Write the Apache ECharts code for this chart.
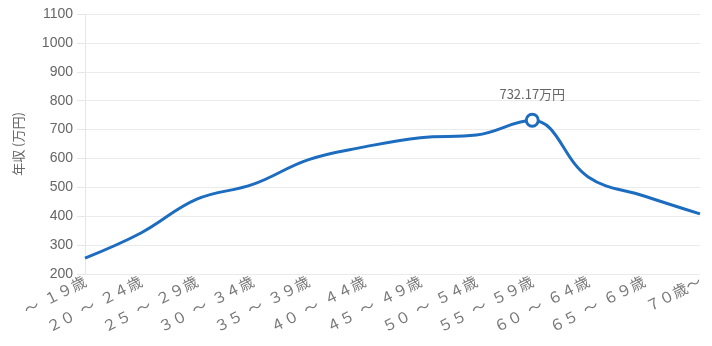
<!DOCTYPE html>
<html><head><meta charset="utf-8">
<script src="https://cdn.jsdelivr.net/npm/echarts@6/dist/echarts.min.js"></script>
<style>html,body{margin:0;padding:0;background:#fff}#c{width:712px;height:346px}</style>
</head><body><div id="c"></div>
<script>
const categories = ['～\u2002１９歳','２０\u2002～\u2002２４歳','２５\u2002～\u2002２９歳','３０\u2002～\u2002３４歳','３５\u2002～\u2002３９歳','４０\u2002～\u2002４４歳','４５\u2002～\u2002４９歳','５０\u2002～\u2002５４歳','５５\u2002～\u2002５９歳','６０\u2002～\u2002６４歳','６５\u2002～\u2002６９歳','７０歳～'];
const incomeValues = [255, 342, 459, 510, 596, 640, 672, 681, 732.17, 536, 470, 408];
const peakIndex = 8;
const yAxisName = '年収 (万円)';

const chart = echarts.init(document.getElementById('c'));
chart.setOption({
  animation: false,
  grid: { left: 85, right: 12, top: 14, bottom: 72 },
  xAxis: {
    type: 'category', data: categories, boundaryGap: false,
    axisLine: { show: false }, axisTick: { show: false },
    axisLabel: { rotate: 27, interval: 0, color: '#777', fontSize: 15, fontFamily: 'Noto Sans CJK JP', margin: 6 }
  },
  yAxis: {
    type: 'value', min: 200, max: 1100, interval: 100,
    name: yAxisName, nameLocation: 'middle', nameGap: 60,
    nameTextStyle: { color: '#666', fontSize: 13, fontFamily: 'Noto Sans CJK JP' },
    axisLine: { show: true, lineStyle: { color: '#e6e6e6' } },
    axisTick: { show: true, length: 8, lineStyle: { color: '#e6e6e6' } },
    axisLabel: { color: '#666', fontSize: 14, fontFamily: 'Liberation Sans, Arial, sans-serif', margin: 12, formatter: v => String(v) },
    splitLine: { lineStyle: { color: '#ebebeb' } }
  },
  series: [{
    type: 'line', smooth: 0.4,
    data: incomeValues.map((v, i) => i === peakIndex ? {
      value: v, symbol: 'circle', symbolSize: 12,
      itemStyle: { color: '#fff', borderColor: '#1c6cbf', borderWidth: 3 },
      label: { show: true, position: 'top', distance: 12, formatter: '{c}万円', color: '#666', fontSize: 13, fontFamily: 'Noto Sans CJK JP' }
    } : { value: v, symbol: 'none' }),
    lineStyle: { color: '#1c6cbf', width: 3 },
    itemStyle: { color: '#1c6cbf' }
  }]
});
</script></body></html>
